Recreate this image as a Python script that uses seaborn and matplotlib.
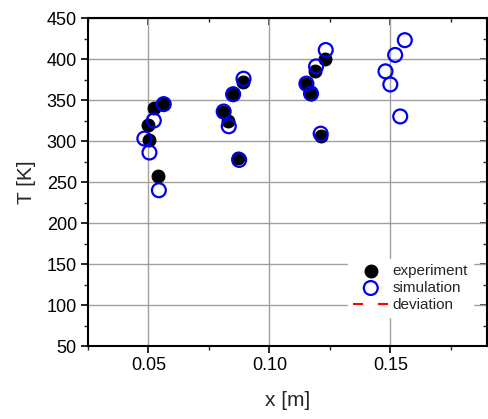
import matplotlib
matplotlib.use("Agg")
import matplotlib.pyplot as plt
import seaborn as sns
import pandas as pd
from matplotlib.ticker import MultipleLocator

exp_x = [0.0496, 0.0521, 0.0504, 0.0541, 0.0562, 0.0810, 0.0830, 0.0851, 0.0892, 0.0872,
         0.1153, 0.1172, 0.1190, 0.1231, 0.1212]
exp_T = [320, 340, 301, 257, 345, 336, 324, 358, 372, 279,
         370, 357, 386, 400, 306]

sim_x = [0.0483, 0.0504, 0.0522, 0.0543, 0.0563, 0.0811, 0.0832, 0.0850, 0.0893, 0.0875,
         0.1153, 0.1172, 0.1193, 0.1233, 0.1212, 0.1480, 0.1500, 0.1520, 0.1560, 0.1541]
sim_T = [303, 286, 325, 240, 345, 336, 318, 357, 376, 277,
         370, 358, 391, 411, 309, 385, 369, 405, 423, 330]

dev_x = []
dev_T = []

sns.set_theme(style="ticks")
plt.rcParams['font.family'] = ['Liberation Sans', 'DejaVu Sans']

fig = plt.figure(figsize=(4.89, 4.19), dpi=100)
ax = fig.add_axes([0.18, 0.174, 0.816, 0.783])

ax.grid(True, color="#a0a0a0", linewidth=1.0, zorder=0)
ax.set_axisbelow(True)

df_exp = pd.DataFrame({"x": exp_x, "T": exp_T})
df_sim = pd.DataFrame({"x": sim_x, "T": sim_T})

sns.scatterplot(data=df_exp, x="x", y="T", ax=ax, color="black", s=85,
                edgecolor="black", linewidth=0.8, label="experiment", zorder=3)
sns.scatterplot(data=df_sim, x="x", y="T", ax=ax, facecolor="none", s=100,
                edgecolor="#0000ee", linewidth=1.6, label="simulation", zorder=4)
ax.plot(dev_x, dev_T, color="red", linestyle=(0, (4.8, 7.2)), linewidth=1.5, label="deviation")

ax.set_xlim(0.025, 0.19)
ax.set_ylim(50, 450)
ax.xaxis.set_major_locator(MultipleLocator(0.05))
ax.xaxis.set_minor_locator(MultipleLocator(0.025))
ax.yaxis.set_major_locator(MultipleLocator(50))
ax.yaxis.set_minor_locator(MultipleLocator(25))
ax.set_xticks([0.05, 0.10, 0.15])
ax.set_xticklabels(["0.05", "0.10", "0.15"])

ax.tick_params(which="major", direction="out", length=5, width=1.2, labelsize=13,
               colors="black", pad=3)
ax.tick_params(which="minor", direction="out", length=3, width=1.0)

sx = ax.secondary_xaxis("top")
sx.xaxis.set_major_locator(MultipleLocator(0.05))
sx.xaxis.set_minor_locator(MultipleLocator(0.025))
sx.tick_params(which="major", direction="in", length=5, width=1.2, labeltop=False)
sx.tick_params(which="minor", direction="in", length=3, width=1.0)
sy = ax.secondary_yaxis("right")
sy.yaxis.set_major_locator(MultipleLocator(50))
sy.yaxis.set_minor_locator(MultipleLocator(25))
sy.tick_params(which="major", direction="in", length=5, width=1.2, labelright=False)
sy.tick_params(which="minor", direction="in", length=3, width=1.0)
ax.tick_params(which="both", top=False, right=False)

for sp in ax.spines.values():
    sp.set_linewidth(1.5)
    sp.set_color("black")

ax.set_xlabel("x [m]", fontsize=15, labelpad=12)
ax.set_ylabel("T [K]", fontsize=15, labelpad=8)

leg = ax.legend(loc="center left", bbox_to_anchor=(0.632, 0.177), frameon=True, fontsize=11,
                handlelength=2.3, handletextpad=0.25, labelspacing=0.2, borderpad=0.35)
leg.get_frame().set_edgecolor("white")
leg.get_frame().set_facecolor("white")
leg.get_frame().set_alpha(1.0)
leg.get_frame().set_boxstyle("square", pad=0)

fig.savefig("out.png", dpi=100)
